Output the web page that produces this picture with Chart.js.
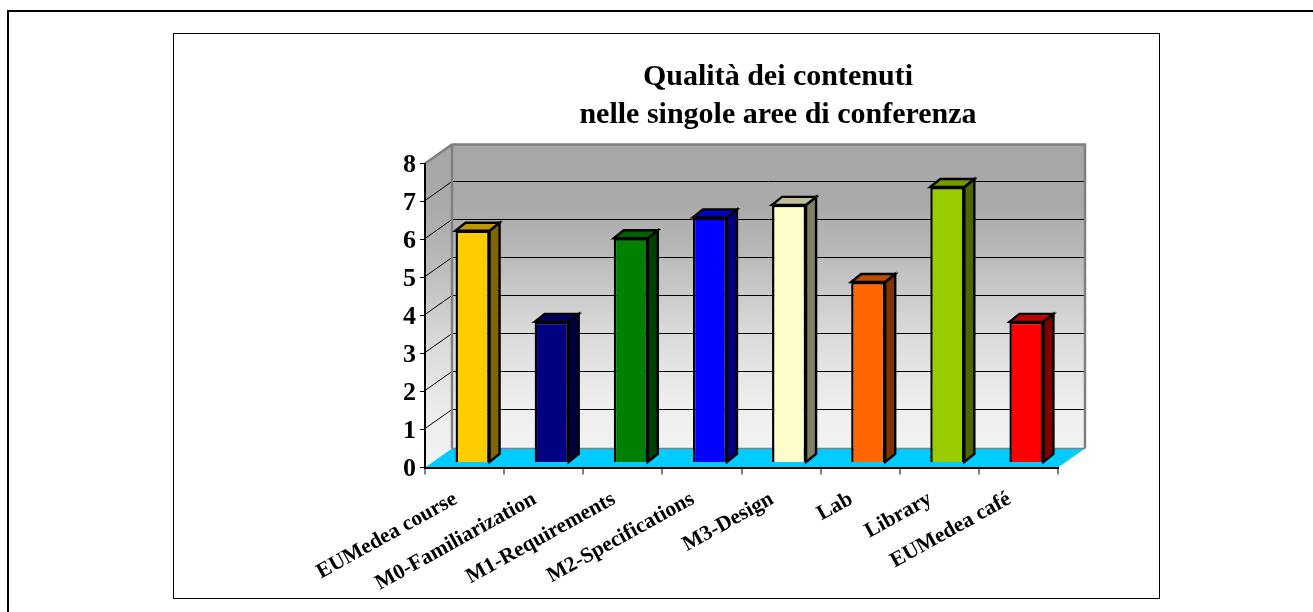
<!DOCTYPE html>
<html><head><meta charset="utf-8">
<style>
html,body{margin:0;padding:0;background:#fff;overflow:hidden}
#outer{position:absolute;left:7px;top:10px;width:1313px;height:700px;border:2px solid #000;box-sizing:border-box}
#inner{position:absolute;left:173px;top:33px;width:987px;height:566px;border:1px solid #000;box-sizing:border-box}
#wrap{position:absolute;left:243px;top:33px;width:1070px;height:565px}
</style>
<script src="https://cdn.jsdelivr.net/npm/chart.js@4"></script>
</head><body>
<div id="outer"></div><div id="inner"></div>
<div id="wrap"><canvas id="c" width="1070" height="565"></canvas></div>
<script>
const titleLines = ["Qualità dei contenuti", "nelle singole aree di conferenza"];
const categories = ["EUMedea course","M0-Familiarization","M1-Requirements","M2-Specifications","M3-Design","Lab","Library","EUMedea café"];
const values = [6.1,3.7,5.9,6.45,6.78,4.75,7.25,3.7];
const barColors = ["#FFCC00","#000080","#008000","#0000FF","#FFFFCC","#FF6600","#99CC00","#FF0000"];
const FLOOR_DX=27, FLOOR_DY=-19, BAR_DX=8, BAR_DY=-5, DEPTH_DX=10, DEPTH_DY=-8;
const FONT="'Liberation Serif'";
function shade(hex,f){
  const n=parseInt(hex.slice(1),16);
  const c=[n>>16&255,n>>8&255,n&255].map(v=>Math.round(v*f));
  return `rgb(${c[0]},${c[1]},${c[2]})`;
}
const scene={
  id:'scene',
  beforeDraw(chart){
    const {ctx,scales:{x,y}}=chart;
    const L=x.left,R=x.right,B=y.getPixelForValue(0),T=y.getPixelForValue(8);
    const bl=L+FLOOR_DX,br=R+FLOOR_DX,bb=B+FLOOR_DY,bt=T+FLOOR_DY;
    const stops=[[0,'#a6a6a6'],[0.2,'#aaaaaa'],[0.35,'#b8b8b8'],[0.6,'#d8d8d8'],[0.85,'#eeeeee'],[1,'#f2f2f2']];
    const g=ctx.createLinearGradient(0,bt,0,bb);
    stops.forEach(s=>g.addColorStop(s[0],s[1]));
    ctx.save();
    ctx.fillStyle=g;ctx.fillRect(bl,bt,br-bl,bb-bt);
    const g2=ctx.createLinearGradient(0,bt,0,B);
    stops.forEach(s=>g2.addColorStop(s[0],s[1]));
    ctx.fillStyle=g2;ctx.beginPath();ctx.moveTo(L,T);ctx.lineTo(bl,bt);ctx.lineTo(bl,bb);ctx.lineTo(L,B);ctx.closePath();ctx.fill();
    ctx.fillStyle='#00CCFF';ctx.beginPath();ctx.moveTo(L,B);ctx.lineTo(bl,bb);ctx.lineTo(br,bb);ctx.lineTo(R,B);ctx.closePath();ctx.fill();
    ctx.strokeStyle='#000';ctx.lineWidth=1;
    for(let v=1;v<8;v++){
      const p=Math.floor(y.getPixelForValue(v))-0.5;
      ctx.beginPath();ctx.moveTo(L,p);ctx.lineTo(bl,p+FLOOR_DY);ctx.lineTo(br,p+FLOOR_DY);ctx.stroke();
    }
    ctx.strokeStyle='#808080';ctx.lineWidth=2.5;
    ctx.beginPath();ctx.moveTo(L,T);ctx.lineTo(bl,bt);ctx.lineTo(br,bt);ctx.lineTo(br,bb);ctx.stroke();
    ctx.beginPath();ctx.moveTo(bl,bt);ctx.lineTo(bl,bb);ctx.stroke();
    ctx.lineWidth=1.5;
    ctx.beginPath();ctx.moveTo(bl,bb);ctx.lineTo(br,bb);ctx.stroke();
    ctx.restore();
  },
  beforeDatasetsDraw(chart){
    const {ctx}=chart;
    const bars=chart.getDatasetMeta(0).data;
    ctx.save();
    ctx.translate(BAR_DX,BAR_DY);
    ctx.strokeStyle='#000';ctx.lineWidth=2.4;ctx.lineJoin='miter';
    bars.forEach((b,i)=>{
      const l=b.x-b.width/2,r=b.x+b.width/2,t=b.y,bo=b.base;
      ctx.fillStyle=shade(barColors[i],0.5);
      ctx.beginPath();ctx.moveTo(r,t);ctx.lineTo(r+DEPTH_DX,t+DEPTH_DY);ctx.lineTo(r+DEPTH_DX,bo+DEPTH_DY);ctx.lineTo(r,bo);ctx.closePath();ctx.fill();ctx.stroke();
      ctx.fillStyle=shade(barColors[i],0.75);
      ctx.beginPath();ctx.moveTo(l,t);ctx.lineTo(l+DEPTH_DX,t+DEPTH_DY);ctx.lineTo(r+DEPTH_DX,t+DEPTH_DY);ctx.lineTo(r,t);ctx.closePath();ctx.fill();ctx.stroke();
    });
    ctx.restore();
    ctx.save();
    ctx.translate(BAR_DX,BAR_DY);
  },
  afterDatasetsDraw(chart){ chart.ctx.restore(); }
};
new Chart(document.getElementById('c'),{
  type:'bar',
  data:{labels:categories,datasets:[{data:values,backgroundColor:barColors,borderColor:'#000',borderWidth:2.4,
    categoryPercentage:1,barPercentage:0.43,clip:false}]},
  plugins:[scene],
  options:{
    responsive:false,animation:false,
    layout:{padding:0},
    plugins:{
      legend:{display:false},tooltip:{enabled:false},
      title:{display:true,text:titleLines,color:'#000',align:'center',
        font:{family:FONT,size:30,weight:'bold',lineHeight:1.27},padding:{top:25,bottom:29.3}}
    },
    scales:{
      x:{
        afterFit(s){s.height=565-(467.5-33);},
        grid:{drawOnChartArea:false,offset:true,color:'#808080',tickLength:7,lineWidth:2},
        border:{display:true,color:'#000',width:2},
        ticks:{autoSkip:false,minRotation:29,maxRotation:29,padding:12,labelOffset:-9,color:'#000',
          font:{family:FONT,size:21.5,weight:'bold'}}
      },
      y:{
        min:0,max:8,
        afterFit(s){s.width=182;},
        grid:{drawOnChartArea:false,color:'#000',tickLength:5},
        border:{display:true,color:'#000',width:2},
        ticks:{stepSize:1,padding:4,labelOffset:2,color:'#000',font:{family:FONT,size:26,weight:'bold'}}
      },
      spacer:{
        type:'linear',position:'right',display:true,
        afterFit(s){s.width=255;},
        grid:{display:false},border:{display:false},ticks:{display:false}
      }
    }
  }
});
</script>
</body></html>
